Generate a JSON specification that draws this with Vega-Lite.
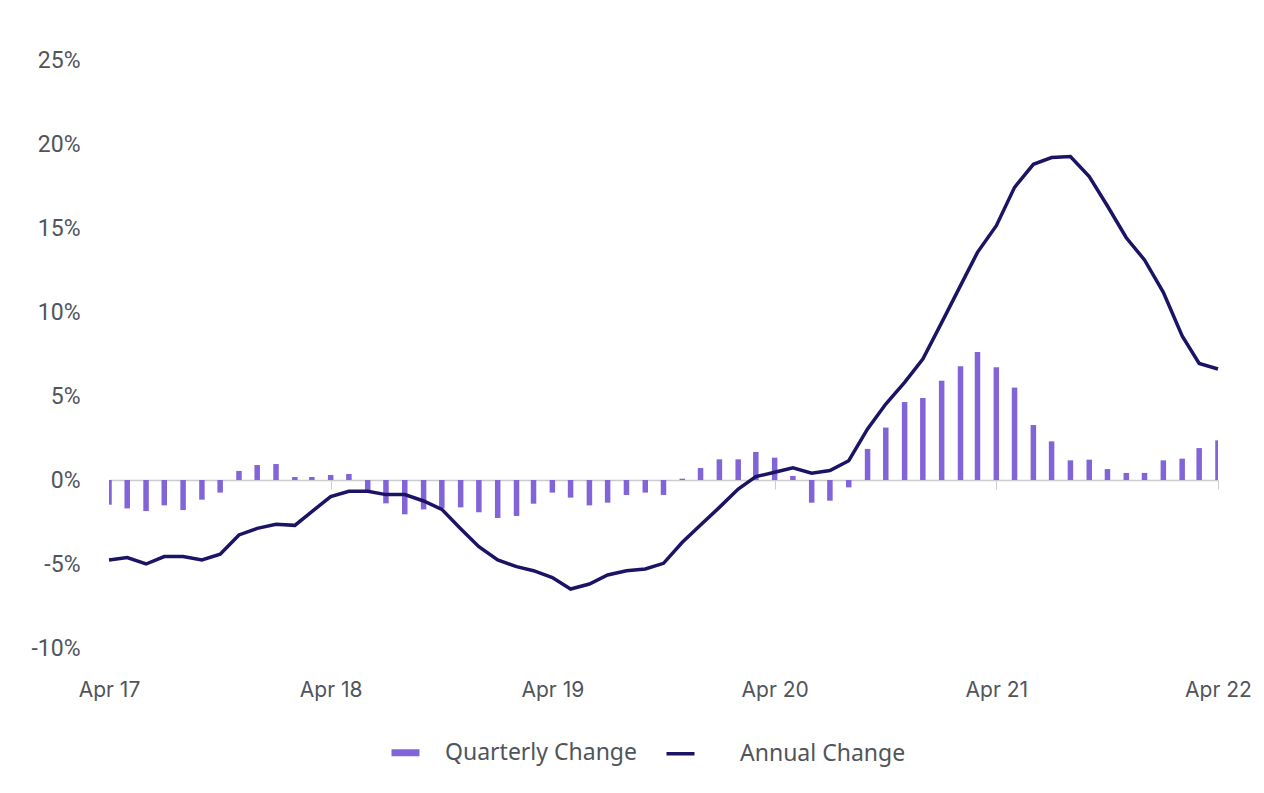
{
  "$schema": "https://vega.github.io/schema/vega-lite/v6.json",
  "width": 1109,
  "height": 588,
  "autosize": {"type": "none"},
  "padding": {"left": 109, "top": 60, "right": 46, "bottom": 145},
  "background": "#ffffff",
  "config": {"view": {"stroke": null}},
  "data": {
    "values": [
      {"date": "2017-04-01", "quarterly": -1.47, "annual": -4.76},
      {"date": "2017-05-01", "quarterly": -1.69, "annual": -4.62},
      {"date": "2017-06-01", "quarterly": -1.85, "annual": -5.00},
      {"date": "2017-07-01", "quarterly": -1.51, "annual": -4.56},
      {"date": "2017-08-01", "quarterly": -1.79, "annual": -4.56},
      {"date": "2017-09-01", "quarterly": -1.17, "annual": -4.76},
      {"date": "2017-10-01", "quarterly": -0.75, "annual": -4.42},
      {"date": "2017-11-01", "quarterly": 0.54, "annual": -3.27},
      {"date": "2017-12-01", "quarterly": 0.89, "annual": -2.88},
      {"date": "2018-01-01", "quarterly": 0.95, "annual": -2.64},
      {"date": "2018-02-01", "quarterly": 0.18, "annual": -2.70},
      {"date": "2018-03-01", "quarterly": 0.18, "annual": -1.88},
      {"date": "2018-04-01", "quarterly": 0.30, "annual": -0.99},
      {"date": "2018-05-01", "quarterly": 0.36, "annual": -0.67},
      {"date": "2018-06-01", "quarterly": -0.63, "annual": -0.67},
      {"date": "2018-07-01", "quarterly": -1.39, "annual": -0.87},
      {"date": "2018-08-01", "quarterly": -2.04, "annual": -0.87},
      {"date": "2018-09-01", "quarterly": -1.75, "annual": -1.25},
      {"date": "2018-10-01", "quarterly": -1.69, "annual": -1.75},
      {"date": "2018-11-01", "quarterly": -1.63, "annual": -2.90},
      {"date": "2018-12-01", "quarterly": -1.92, "annual": -3.97},
      {"date": "2019-01-01", "quarterly": -2.26, "annual": -4.76},
      {"date": "2019-02-01", "quarterly": -2.14, "annual": -5.16},
      {"date": "2019-03-01", "quarterly": -1.41, "annual": -5.40},
      {"date": "2019-04-01", "quarterly": -0.75, "annual": -5.81},
      {"date": "2019-05-01", "quarterly": -1.05, "annual": -6.49},
      {"date": "2019-06-01", "quarterly": -1.51, "annual": -6.19},
      {"date": "2019-07-01", "quarterly": -1.35, "annual": -5.65},
      {"date": "2019-08-01", "quarterly": -0.89, "annual": -5.40},
      {"date": "2019-09-01", "quarterly": -0.75, "annual": -5.30},
      {"date": "2019-10-01", "quarterly": -0.89, "annual": -4.96},
      {"date": "2019-11-01", "quarterly": 0.08, "annual": -3.71},
      {"date": "2019-12-01", "quarterly": 0.71, "annual": -2.68},
      {"date": "2020-01-01", "quarterly": 1.23, "annual": -1.63},
      {"date": "2020-02-01", "quarterly": 1.23, "annual": -0.54},
      {"date": "2020-03-01", "quarterly": 1.67, "annual": 0.20},
      {"date": "2020-04-01", "quarterly": 1.33, "annual": 0.46},
      {"date": "2020-05-01", "quarterly": 0.24, "annual": 0.73},
      {"date": "2020-06-01", "quarterly": -1.35, "annual": 0.40},
      {"date": "2020-07-01", "quarterly": -1.23, "annual": 0.56},
      {"date": "2020-08-01", "quarterly": -0.44, "annual": 1.15},
      {"date": "2020-09-01", "quarterly": 1.85, "annual": 3.04},
      {"date": "2020-10-01", "quarterly": 3.12, "annual": 4.52},
      {"date": "2020-11-01", "quarterly": 4.64, "annual": 5.81},
      {"date": "2020-12-01", "quarterly": 4.88, "annual": 7.20},
      {"date": "2021-01-01", "quarterly": 5.91, "annual": 9.37},
      {"date": "2021-02-01", "quarterly": 6.77, "annual": 11.57},
      {"date": "2021-03-01", "quarterly": 7.62, "annual": 13.55},
      {"date": "2021-04-01", "quarterly": 6.71, "annual": 15.14},
      {"date": "2021-05-01", "quarterly": 5.50, "annual": 17.42},
      {"date": "2021-06-01", "quarterly": 3.27, "annual": 18.79},
      {"date": "2021-07-01", "quarterly": 2.30, "annual": 19.19},
      {"date": "2021-08-01", "quarterly": 1.17, "annual": 19.25},
      {"date": "2021-09-01", "quarterly": 1.21, "annual": 18.06},
      {"date": "2021-10-01", "quarterly": 0.65, "annual": 16.31},
      {"date": "2021-11-01", "quarterly": 0.42, "annual": 14.42},
      {"date": "2021-12-01", "quarterly": 0.42, "annual": 13.10},
      {"date": "2022-01-01", "quarterly": 1.17, "annual": 11.17},
      {"date": "2022-02-01", "quarterly": 1.27, "annual": 8.57},
      {"date": "2022-03-01", "quarterly": 1.90, "annual": 6.94},
      {"date": "2022-04-01", "quarterly": 2.36, "annual": 6.61}
    ]
  },
  "encoding": {
    "x": {
      "field": "date",
      "type": "temporal",
      "title": null,
      "scale": {
        "type": "utc",
        "domain": [
          {"year": 2017, "month": 4, "date": 1, "utc": true},
          {"year": 2022, "month": 4, "date": 1, "utc": true}
        ],
        "nice": false,
        "padding": 0
      },
      "axis": {
        "values": [
          {"year": 2017, "month": 4, "date": 1, "utc": true},
          {"year": 2018, "month": 4, "date": 1, "utc": true},
          {"year": 2019, "month": 4, "date": 1, "utc": true},
          {"year": 2020, "month": 4, "date": 1, "utc": true},
          {"year": 2021, "month": 4, "date": 1, "utc": true},
          {"year": 2022, "month": 4, "date": 1, "utc": true}
        ],
        "labelExpr": "utcFormat(datum.value, '%b %y')",
        "offset": -168,
        "domain": true,
        "domainColor": "#cccccc",
        "domainWidth": 1.5,
        "ticks": true,
        "tickColor": "#cccccc",
        "tickSize": 9,
        "tickWidth": 1,
        "grid": false,
        "labelPadding": 190,
        "labelFont": "Inter",
        "labelFontSize": 21,
        "labelColor": "#50555b",
        "labelFlush": false,
        "labelOverlap": false
      }
    }
  },
  "layer": [
    {
      "mark": {"type": "bar", "size": 5.5, "clip": true},
      "encoding": {
        "y": {
          "field": "quarterly",
          "type": "quantitative",
          "title": null,
          "scale": {"domain": [-10, 25], "nice": false, "zero": false},
          "axis": {
            "values": [-10, -5, 0, 5, 10, 15, 20, 25],
            "labelExpr": "datum.value + '%'",
            "domain": false,
            "ticks": false,
            "grid": false,
            "labelPadding": 29,
            "labelFont": "Roboto",
            "labelFontSize": 23,
            "labelColor": "#50555b"
          }
        },
        "color": {
          "datum": "Quarterly Change",
          "scale": {
            "domain": ["Quarterly Change", "Annual Change"],
            "range": ["#8064d8", "#1b1464"]
          },
          "legend": {
            "title": null,
            "orient": "none",
            "legendX": 285,
            "legendY": 681,
            "direction": "horizontal",
            "symbolType": "stroke",
            "symbolSize": 784,
            "symbolStrokeWidth": 5,
            "labelFont": "Noto Sans",
            "labelFontSize": 23,
            "labelLimit": 400,
            "labelColor": "#50555b",
            "labelOffset": 28,
            "columnPadding": 22,
            "encode": {
              "symbols": {
                "update": {
                  "strokeWidth": {"signal": "datum.value === 'Quarterly Change' ? 7 : 3.5"}
                }
              },
              "labels": {
                "update": {
                  "dx": {"signal": "datum.value === 'Annual Change' ? 20 : 0"}
                }
              }
            }
          }
        }
      }
    },
    {
      "mark": {"type": "line", "strokeWidth": 3.5},
      "encoding": {
        "y": {"field": "annual", "type": "quantitative"},
        "color": {"datum": "Annual Change"}
      }
    }
  ]
}
